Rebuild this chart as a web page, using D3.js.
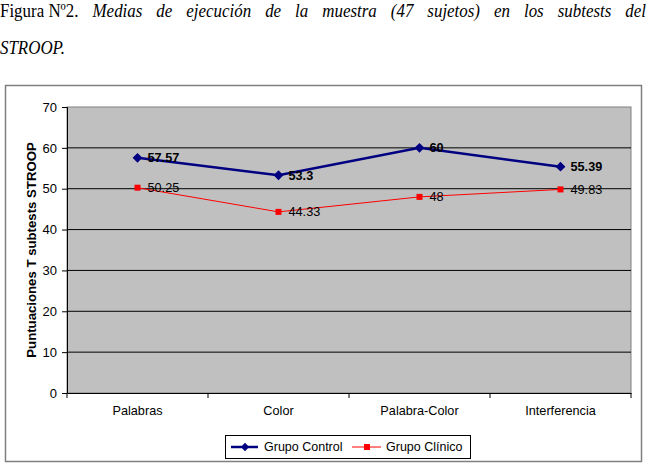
<!DOCTYPE html>
<html><head><meta charset="utf-8">
<script src="https://cdn.jsdelivr.net/npm/d3@7"></script>
<style>body{margin:0;background:#fff}svg{display:block}</style>
</head><body>
<script>
const categories = ["Palabras", "Color", "Palabra-Color", "Interferencia"];
const controlValues = [57.57, 53.3, 60, 55.39];
const clinicoValues = [50.25, 44.33, 48, 49.83];
const controlLabels = ["57.57", "53.3", "60", "55.39"];
const clinicoLabels = ["50.25", "44.33", "48", "49.83"];
const yTicks = [0, 10, 20, 30, 40, 50, 60, 70];
const seriesNames = ["Grupo Control", "Grupo Clínico"];
const titleLine1Normal = "Figura Nº2.";
const titleLine1Italic = "Medias de ejecución de la muestra (47 sujetos) en los subtests del";
const titleLine2 = "STROOP.";

const W = 650, H = 465;
const svg = d3.select("body").append("svg").attr("width", W).attr("height", H);

// Title (justified, slightly condensed serif)
const serif = "'Liberation Serif','Times New Roman',serif";
const sx = 0.9;
const words = [{t: titleLine1Normal, it: false}].concat(titleLine1Italic.split(" ").map(t => ({t, it: true})));
const tg = svg.append("g").attr("transform", `scale(${sx},1)`)
  .attr("font-family", serif).attr("font-size", 18.8).attr("fill", "#000");
const nodes = words.map(w => tg.append("text").attr("y", 17).attr("font-style", w.it ? "italic" : "normal").text(w.t));
const widths = nodes.map(n => n.node().getComputedTextLength());
const total = d3.sum(widths);
const gap = (646 / sx - total) / (words.length - 1);
let cx = 0;
nodes.forEach((n, i) => { n.attr("x", cx); cx += widths[i] + gap; });
tg.append("text").attr("x", 0).attr("y", 54).attr("font-style", "italic").text(titleLine2);

// Outer frame
svg.append("rect").attr("x", 5.5).attr("y", 85.5).attr("width", 636).attr("height", 376)
  .attr("fill", "#fff").attr("stroke", "#7f7f7f").attr("stroke-width", 1.5);

const plot = {l: 67, r: 631, t: 107, b: 393};
const x = d3.scaleBand().domain(categories).range([plot.l, plot.r]);
const y = d3.scaleLinear().domain([0, 70]).range([plot.b, plot.t]);

svg.append("rect").attr("x", plot.l).attr("y", plot.t).attr("width", plot.r - plot.l).attr("height", plot.b - plot.t)
  .attr("fill", "#c0c0c0").attr("stroke", "#808080").attr("stroke-width", 1);

// gridlines
svg.append("g").selectAll("line").data(yTicks.filter(d => d > 0 && d < 70)).join("line")
  .attr("x1", plot.l).attr("x2", plot.r).attr("y1", d => y(d)).attr("y2", d => y(d))
  .attr("stroke", "#000").attr("stroke-width", 1);

const font = "Arial, 'Liberation Sans', sans-serif";
// Y axis
const yAxis = svg.append("g").attr("transform", `translate(${plot.l},0)`)
  .call(d3.axisLeft(y).tickValues(yTicks).tickSize(5).tickPadding(5).tickFormat(d3.format("d")));
yAxis.select(".domain").attr("stroke", "#000");
yAxis.selectAll(".tick line").attr("stroke", "#000");
yAxis.selectAll("text").attr("font-family", font).attr("font-size", 13).attr("fill", "#000");

// X axis
const xAxis = svg.append("g").attr("transform", `translate(0,${plot.b})`)
  .call(d3.axisBottom(x).tickSize(0).tickPadding(13));
xAxis.select(".domain").attr("stroke", "#000");
xAxis.selectAll("text").attr("font-family", font).attr("font-size", 12.7).attr("fill", "#000");
const bounds = categories.map(c => x(c)).concat([plot.r]);
xAxis.selectAll(".sep").data(bounds).join("line").attr("class", "sep")
  .attr("x1", d => d).attr("x2", d => d).attr("y1", 0).attr("y2", 5).attr("stroke", "#000");

// Y title
svg.append("text").attr("transform", `translate(35.5,${(plot.t + plot.b) / 2}) rotate(-90)`)
  .attr("text-anchor", "middle").attr("font-family", font).attr("font-size", 13.2).attr("font-weight", "bold")
  .text("Puntuaciones T subtests STROOP");

const cxOf = c => x(c) + x.bandwidth() / 2;
const line = d3.line().x(d => cxOf(d[0])).y(d => y(d[1]));

const ctrl = categories.map((c, i) => [c, controlValues[i]]);
const clin = categories.map((c, i) => [c, clinicoValues[i]]);

svg.append("path").datum(clin).attr("d", line).attr("fill", "none").attr("stroke", "#ff0000").attr("stroke-width", 1);
svg.append("path").datum(ctrl).attr("d", line).attr("fill", "none").attr("stroke", "#000080").attr("stroke-width", 2.5);

svg.append("g").selectAll("path").data(ctrl).join("path")
  .attr("d", d3.symbol().type(d3.symbolSquare).size(48))
  .attr("transform", d => `translate(${cxOf(d[0])},${y(d[1])}) rotate(45)`)
  .attr("fill", "#000080");
svg.append("g").selectAll("rect").data(clin).join("rect")
  .attr("x", d => cxOf(d[0]) - 3).attr("y", d => y(d[1]) - 3).attr("width", 6).attr("height", 6)
  .attr("fill", "#ff0000");

svg.append("g").selectAll("text").data(ctrl).join("text")
  .attr("x", d => cxOf(d[0]) + 10).attr("y", d => y(d[1])).attr("dy", "0.35em")
  .attr("font-family", font).attr("font-size", 12.7).attr("font-weight", "bold").attr("fill", "#000")
  .text((d, i) => controlLabels[i]);
svg.append("g").selectAll("text").data(clin).join("text")
  .attr("x", d => cxOf(d[0]) + 10).attr("y", d => y(d[1])).attr("dy", "0.35em")
  .attr("font-family", font).attr("font-size", 12.7).attr("fill", "#000")
  .text((d, i) => clinicoLabels[i]);

// Legend
const lg = svg.append("g");
const ly = 447;
lg.append("rect").attr("x", 225.5).attr("y", 435.5).attr("width", 245).attr("height", 23)
  .attr("fill", "#fff").attr("stroke", "#000").attr("stroke-width", 1);
lg.append("line").attr("x1", 231).attr("x2", 258).attr("y1", ly).attr("y2", ly).attr("stroke", "#000080").attr("stroke-width", 2.5);
lg.append("path").attr("d", d3.symbol().type(d3.symbolSquare).size(35)).attr("transform", `translate(245,${ly}) rotate(45)`).attr("fill", "#000080");
lg.append("text").attr("x", 264).attr("y", ly).attr("dy", "0.35em").attr("font-family", font).attr("font-size", 12.5).text(seriesNames[0]);
lg.append("line").attr("x1", 352).attr("x2", 381).attr("y1", ly).attr("y2", ly).attr("stroke", "#ff0000").attr("stroke-width", 1);
lg.append("rect").attr("x", 364).attr("y", ly - 3).attr("width", 6).attr("height", 6).attr("fill", "#ff0000");
lg.append("text").attr("x", 386).attr("y", ly).attr("dy", "0.35em").attr("font-family", font).attr("font-size", 12.5).text(seriesNames[1]);
</script>
</body></html>
